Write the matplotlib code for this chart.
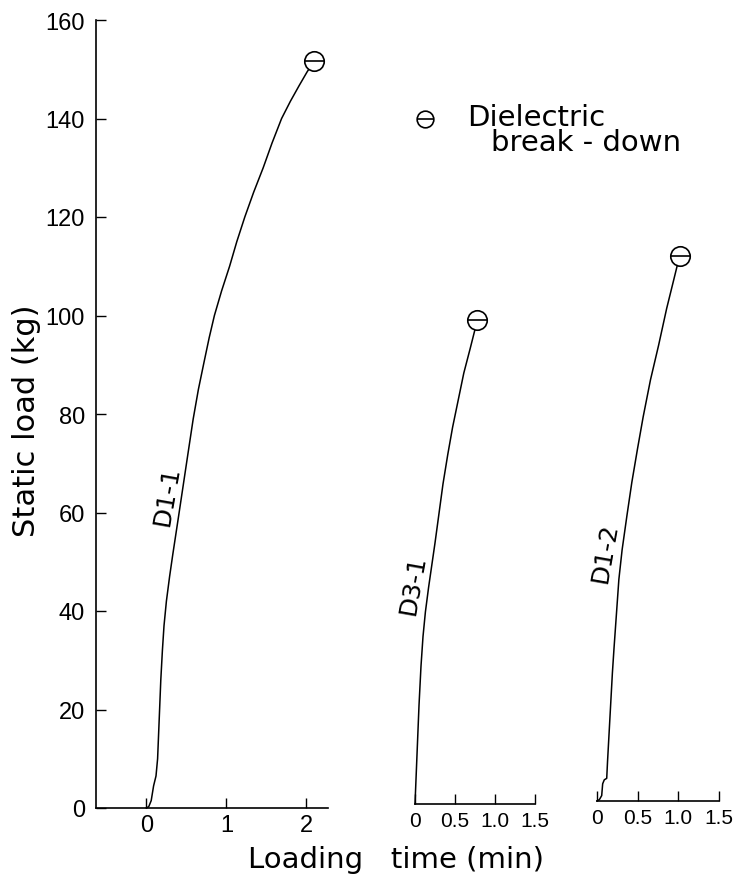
import matplotlib
matplotlib.use("Agg")
import matplotlib.pyplot as plt

plt.rcParams['font.family'] = ['DejaVu Sans']
TICK_FONT = ['Liberation Sans', 'DejaVu Sans']

# ---- data ----
d11_x = [0.00, 0.03, 0.06, 0.09, 0.12, 0.14, 0.16, 0.18, 0.20, 0.22, 0.25, 0.29, 0.33, 0.40, 0.46,
         0.52, 0.585, 0.65, 0.72, 0.785, 0.85, 0.94, 1.04, 1.13, 1.23, 1.34, 1.46, 1.57, 1.69, 1.80,
         1.91, 2.01, 2.10]
d11_y = [0.0, 0.3, 1.5, 4.5, 6.5, 10.0, 18.0, 26.0, 32.0, 37.0, 42.0, 47.0, 51.5, 59.0, 65.5,
         72.0, 79.0, 85.0, 90.5, 95.5, 100.0, 105.0, 110.0, 115.0, 120.0, 125.0, 130.0, 135.0, 140.0, 143.5,
         146.7, 149.5, 151.7]

d31_x = [0.00, 0.005, 0.015, 0.03, 0.05, 0.075, 0.10, 0.13, 0.17, 0.21, 0.25, 0.30, 0.35, 0.41,
         0.47, 0.54, 0.61, 0.69, 0.78]
d31_y = [0.0, 2.0, 6.0, 12.0, 20.0, 28.0, 34.0, 39.0, 44.0, 48.5, 53.0, 59.0, 65.0, 71.0,
         76.5, 82.0, 87.5, 92.5, 98.3]

d12_x = [0.00, 0.03, 0.058, 0.07, 0.09, 0.12, 0.13, 0.15, 0.17, 0.19, 0.21, 0.24, 0.27, 0.31,
         0.37, 0.43, 0.50, 0.57, 0.66, 0.76, 0.86, 0.95, 1.02]
d12_y = [0.0, 0.3, 1.1, 3.5, 4.3, 4.6, 8.0, 14.0, 20.0, 26.0, 31.0, 38.0, 45.0, 51.0,
         58.0, 64.7, 71.5, 78.0, 85.5, 92.5, 100.0, 106.0, 110.7]

series_names = ['D1-1', 'D3-1', 'D1-2']
y_ticks = [0, 20, 40, 60, 80, 100, 120, 140, 160]
x1_ticks = [0, 1, 2]
x23_ticks = [0, 0.5, 1.0, 1.5]
x23_labels = ['0', '0.5', '1.0', '1.5']

W, H = 733, 887
fig = plt.figure(figsize=(W / 100, H / 100), dpi=100)

def px_axes(left, bottom_px, width, height):
    return fig.add_axes([left / W, (H - bottom_px) / H, width / W, height / H])

ax1 = px_axes(96, 809, 232, 788)
ax2 = px_axes(415, 805, 120, 788)
ax3 = px_axes(597, 802, 121.5, 788)

lw_ax = 1.2
for ax in (ax1, ax2, ax3):
    ax.set_ylim(0, 160)
    for s in ('top', 'right'):
        ax.spines[s].set_visible(False)
    ax.spines['bottom'].set_linewidth(lw_ax)
    ax.spines['left'].set_linewidth(lw_ax)
    ax.tick_params(direction='in', length=7, width=1.0, labelsize=17, colors='black')
    ax.tick_params(axis='x', pad=4)
    ax.tick_params(axis='y', pad=8)
    ax.patch.set_alpha(0)

ax1.set_xlim(-0.63, 2.27)
ax1.set_xticks(x1_ticks)
ax1.set_yticks(y_ticks)

for ax in (ax2, ax3):
    ax.set_xlim(0, 1.5)
    ax.set_xticks(x23_ticks)
    ax.set_xticklabels(x23_labels)
    ax.spines['left'].set_visible(False)
    ax.set_yticks([])
    ax.tick_params(axis='x', labelsize=15, pad=5)

for ax in (ax1, ax2, ax3):
    for lab in ax.get_xticklabels() + ax.get_yticklabels():
        lab.set_family(TICK_FONT)

def breakdown(ax, x, y, ms=14):
    ax.plot([x], [y], marker='o', ms=ms, mfc='white', mec='black', mew=1.2, clip_on=False, zorder=5)
    ax.plot([x], [y], marker='_', ms=ms, mec='black', mew=1.2, clip_on=False, zorder=6)

for ax, xs, ys in ((ax1, d11_x, d11_y), (ax2, d31_x, d31_y), (ax3, d12_x, d12_y)):
    ax.plot(xs, ys, color='black', lw=1.1, clip_on=False, zorder=4)
    breakdown(ax, xs[-1], ys[-1])

ax1.text(0.25, 63.5, series_names[0], rotation=80, ha='center', va='center', fontsize=18)
ax2.text(-0.03, 44.7, series_names[1], rotation=80, ha='center', va='center', fontsize=18)
ax3.text(0.10, 50.6, series_names[2], rotation=80, ha='center', va='center', fontsize=18)

# legend
breakdown(ax2, 0.125, 139.1, ms=12)
ax2.text(0.65, 139.5, 'Dielectric', ha='left', va='center', fontsize=21, clip_on=False)
ax2.text(0.95, 134.4, 'break - down', ha='left', va='center', fontsize=21, clip_on=False)

fig.text(27 / W, 1 - 421 / H, 'Static load (kg)', rotation=90, ha='center', va='center', fontsize=22)
fig.text(396 / W, 1 - 860 / H, 'Loading   time (min)', ha='center', va='center', fontsize=21)

fig.savefig('out.png', dpi=100)
